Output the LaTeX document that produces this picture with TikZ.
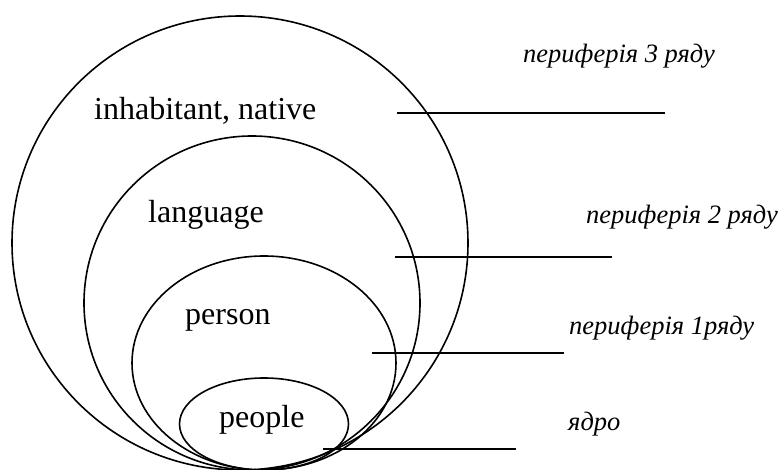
\documentclass[tikz,border=0pt]{standalone}
\usepackage{fontspec}
\setmainfont{Liberation Serif}
\usepackage{tikz}
\usetikzlibrary{positioning, calc}
\tikzset{
    ring/.style={
        draw,
        line width=1.6pt
    },
    word/.style={
        anchor=base west,
        inner sep=0pt,
        font=\fontsize{32}{36}\selectfont
    },
    tag/.style={
        anchor=base west,
        inner sep=0pt,
        font=\fontsize{26.5}{30}\selectfont\itshape
    },
    lead/.style={
        line width=1.8pt
    }
}

\begin{document}
\begin{tikzpicture}[x=1pt, y=-1pt]
        \useasboundingbox (0,0) rectangle (780,470);
        \begin{scope}
            \clip (0,0) rectangle (780,470);
            \draw[ring] (240,243) ellipse [x radius=228, y radius=227];
            \draw[ring] (252,303) ellipse [x radius=168, y radius=167];
            \draw[ring] (264,363) ellipse [x radius=132, y radius=107];
            \draw[ring] (264,424) ellipse [x radius=84.5, y radius=46];
        \end{scope}

        \node[word] (native) at (94,120) {inhabitant, native};
        \node[word] (language) at (148,223) {language};
        \node[word] (person) at (185,325) {person};
        \node[word] (people) at (219,428) {people};

        \node[tag] (per3) at (523,63) {периферія 3 ряду};
        \node[tag] (per2) at (586,224) {периферія 2 ряду};
        \node[tag] (per1) at (569,335) {периферія 1ряду};
        \node[tag] (core) at (568,431) {ядро};

        \coordinate (l3a) at (397,113);
        \coordinate (l3b) at (665,113);
        \coordinate (l2a) at (395,257);
        \coordinate (l2b) at (612,257);
        \coordinate (l1a) at (372,353);
        \coordinate (l1b) at (564,353);
        \coordinate (l0a) at (323,449);
        \coordinate (l0b) at (516,449);

        \draw[lead] (l3a) -- (l3b);
        \draw[lead] (l2a) -- (l2b);
        \draw[lead] (l1a) -- (l1b);
        \draw[lead] (l0a) -- (l0b);
    \end{tikzpicture}
\end{document}
